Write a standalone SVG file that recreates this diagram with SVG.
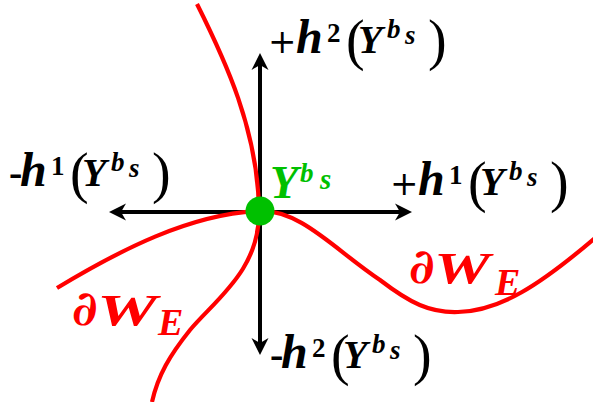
<svg xmlns="http://www.w3.org/2000/svg" width="593" height="402" viewBox="0 0 593 402">
<style>
.bi{font-family:"Liberation Serif","DejaVu Serif",serif;font-weight:bold;font-style:italic}
.dj{font-family:"DejaVu Serif",serif;font-weight:bold;font-style:italic}
.up{font-family:"Liberation Serif","DejaVu Serif",serif;font-weight:bold}
.pl{font-family:"DejaVu Serif",serif;font-weight:normal}
.par{font-family:"Liberation Serif",serif;font-weight:normal;font-size:56px}
.curve{fill:none;stroke:#FF0000;stroke-width:4.2}
.axis{fill:none;stroke:#000;stroke-width:4;marker-end:url(#ah);marker-start:url(#ah)}
.red{fill:#FF0000}
.grn{fill:#00C000}
</style>
<defs>
<marker id="ah" viewBox="-10 -10 20 20" markerWidth="20" markerHeight="20" refX="0" refY="0" markerUnits="userSpaceOnUse" orient="auto-start-reverse">
<path d="M-9,-8.5 L8,0 L-9,8.5 L-4,0 Z" fill="#000"/>
</marker>
</defs>
<g id="connectors">
<line class="axis" x1="260" y1="61" x2="260" y2="347"/>
<line class="axis" x1="117" y1="212" x2="404" y2="212"/>
</g>
<g id="boundary">
<path class="curve" d="M197,4 C225,60 258,130 259,211 C260,270 215,300 190,330 C170,355 158,375 152,402"/>
<path class="curve" d="M57,288 C120,250 190,214 259,211 C300,209 335,250 380,280 C410,303 430,313 458,312 C500,311 540,285 595,238"/>
</g>
<g id="point">
<circle cx="260" cy="211" r="14.5" fill="#00C000"/>
<text class="bi grn" x="270" y="198" font-size="46">Y</text>
<text class="bi grn" x="300" y="182" font-size="27">b</text>
<text class="bi grn" x="320" y="189" font-size="29">s</text>
</g>
<g id="label-top">
<text class="pl" x="268" y="53" font-size="34">+</text>
<text class="bi" x="296" y="53" font-size="48">h</text>
<text class="up" x="327" y="42" font-size="27">2</text>
<text class="par" x="346" y="59">(</text>
<text class="bi" x="358" y="53" font-size="40">Y</text>
<text class="bi" x="387" y="38" font-size="27">b</text>
<text class="bi" x="405" y="44" font-size="27">s</text>
<text class="par" x="428" y="59">)</text>
</g>
<g id="label-right" transform="translate(122,142)">
<text class="pl" x="268" y="53" font-size="34">+</text>
<text class="bi" x="296" y="53" font-size="48">h</text>
<text class="up" x="327" y="42" font-size="27">1</text>
<text class="par" x="346" y="59">(</text>
<text class="bi" x="358" y="53" font-size="40">Y</text>
<text class="bi" x="387" y="38" font-size="27">b</text>
<text class="bi" x="405" y="44" font-size="27">s</text>
<text class="par" x="428" y="59">)</text>
</g>
<g id="label-left" transform="translate(-276,133)">
<text class="up" x="285" y="53" font-size="40">-</text>
<text class="bi" x="296" y="53" font-size="48">h</text>
<text class="up" x="327" y="42" font-size="27">1</text>
<text class="par" x="346" y="59">(</text>
<text class="bi" x="358" y="53" font-size="40">Y</text>
<text class="bi" x="387" y="38" font-size="27">b</text>
<text class="bi" x="405" y="44" font-size="27">s</text>
<text class="par" x="428" y="59">)</text>
</g>
<g id="label-bottom" transform="translate(-15,315)">
<text class="up" x="285" y="53" font-size="40">-</text>
<text class="bi" x="296" y="53" font-size="48">h</text>
<text class="up" x="327" y="42" font-size="27">2</text>
<text class="par" x="346" y="59">(</text>
<text class="bi" x="358" y="53" font-size="40">Y</text>
<text class="bi" x="387" y="38" font-size="27">b</text>
<text class="bi" x="405" y="44" font-size="27">s</text>
<text class="par" x="428" y="59">)</text>
</g>
<g id="boundary-label-right">
<text class="dj red" x="409" y="283" font-size="48">∂</text>
<text class="bi red" x="434" y="283" font-size="44" textLength="56" lengthAdjust="spacingAndGlyphs">W</text>
<text class="bi red" x="495" y="295" font-size="38">E</text>
</g>
<g id="boundary-label-left">
<text class="dj red" x="72" y="325" font-size="48">∂</text>
<text class="bi red" x="97" y="325" font-size="44" textLength="60" lengthAdjust="spacingAndGlyphs">W</text>
<text class="bi red" x="158" y="335" font-size="38">E</text>
</g>
</svg>
